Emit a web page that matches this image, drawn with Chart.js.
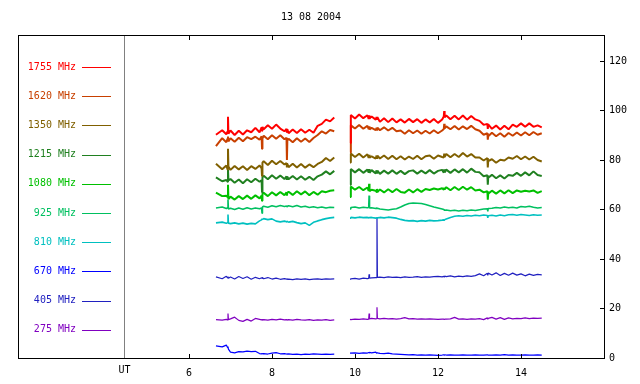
<!DOCTYPE html>
<html>
<head>
<meta charset="utf-8">
<script src="https://cdn.jsdelivr.net/npm/chart.js@4.4.1/dist/chart.umd.min.js"></script>
<style>
  html, body { margin: 0; padding: 0; background: #fff; }
</style>
</head>
<body>
<canvas id="radio" width="640" height="384"></canvas>
<script>
// ────────────────────────────────────────────────
// dane
// ────────────────────────────────────────────────
const title = "13 08 2004";
const bandLabels = ["1755 MHz","1620 MHz","1350 MHz","1215 MHz","1080 MHz","925 MHz","810 MHz","670 MHz","405 MHz","275 MHz"];
const bandColors = ["#ff0000","#c84000","#806000","#208020","#00c000","#00c060","#00c0c0","#0000ff","#2020c0","#8000c0"];
const xTicks = [6, 8, 10, 12, 14];
const yTicks = [0, 20, 40, 60, 80, 100, 120];
const utHour = 4.43;

const hours = [
  6.65,6.8,6.9, 6.93,6.94,6.95, 7.0,7.1,7.2,7.3,7.4,7.5,7.6,7.7, 7.75,7.76,7.77, 7.8,7.9,8.0,8.1,8.2,8.3, 8.35,8.36,8.37, 8.4,8.5,8.6,8.7,8.8,8.9,9.0,9.1,9.2,9.3,9.4,9.5,
  9.7,
  9.88, 9.9,10.0,10.1,10.2,10.3, 10.33,10.34,10.35, 10.4,10.5, 10.52,10.53,10.54,
  10.6,10.7,10.8,10.9,11.0,11.1,11.2,11.3,11.4,11.5,11.6,11.7,11.8,11.9,12.0,12.1,
  12.14,12.15,12.16, 12.2,12.3,12.4,12.5,12.6,12.7,12.8,12.9,13.0,13.1, 13.19,13.2,13.21,
  13.3,13.4,13.5,13.6,13.7,13.8,13.9,14.0,14.1,14.2,14.3,14.4,14.5
];

const mhz1755 = [
  90.2,92.0,90.4, 91.6,97.5,90.6, 91.9,90.1,91.8,90.3,92.0,91.2,93.0,91.2, 93.2,91.8,93.4, 92.4,94.0,92.6,94.3,92.7,91.6, 92.6,91.0,92.4, 90.8,92.3,90.9,92.4,91.0,92.2,91.0,93.8,94.6,96.3,95.6,97.2,
  null,
  86.9, 98.2,96.8,98.4,96.9,98.1, 96.6,98.0,96.7, 97.6,96.3, 97.4,96.2,97.3,
  95.4,96.9,95.3,96.8,95.2,96.4,95.1,96.6,95.3,96.5,95.0,96.4,95.2,96.6,95.0,96.4,
  97.6,99.8,97.2, 98.0,96.5,97.9,96.4,98.0,96.3,97.8,96.4,95.8,94.2, 94.6,92.6,94.4,
  92.6,93.9,92.3,93.8,92.4,94.3,93.4,94.8,93.4,94.8,93.4,94.0,93.2
];
const mhz1620 = [
  85.6,88.8,87.2, 88.6,89.5,87.5, 88.8,87.4,89.0,87.6,89.2,88.4,89.4,88.2, 89.6,84.5,88.6, 89.8,88.4,90.0,88.6,90.0,88.4, 89.0,80.0,87.8, 88.6,87.2,88.8,87.4,88.7,87.3,88.9,90.1,91.6,90.7,92.1,91.6,
  null,
  83.0, 94.0,92.7,94.1,92.6,93.8, 92.5,93.6,92.3, 93.0,92.1, 93.0,91.9,93.1,
  92.0,93.2,91.9,93.0,91.6,91.9,90.6,92.0,90.8,91.9,90.6,91.8,90.7,92.0,90.8,91.9,
  92.5,94.6,92.8, 93.6,92.4,93.7,92.3,93.6,92.5,93.8,92.4,91.8,90.2, 90.8,88.2,89.6,
  91.0,89.6,90.8,89.4,90.9,89.8,91.1,89.9,91.2,90.0,91.3,90.2,90.8
];
const mhz1350 = [
  78.5,76.3,77.8, 76.2,84.5,77.4, 76.0,77.6,76.2,77.5,76.0,77.5,76.4,77.8, 76.6,73.5,78.9, 79.5,78.0,79.7,78.3,79.6,78.2, 78.7,77.0,78.4, 77.1,78.5,77.0,78.4,76.9,78.2,77.1,78.4,79.2,80.8,79.6,81.0,
  null,
  79.0, 82.6,81.2,82.5,81.0,82.3, 80.8,82.1,80.9, 81.5,80.6, 81.8,80.5,81.8,
  80.6,81.8,80.4,81.7,80.3,81.5,80.2,81.4,80.4,81.7,80.3,81.5,81.8,80.5,81.8,81.2,
  81.0,82.6,81.2, 82.4,81.1,82.4,81.2,82.8,81.4,82.4,81.0,81.0,79.8, 80.8,77.0,79.6,
  80.3,78.9,80.1,79.8,81.0,80.5,81.6,80.3,81.4,80.2,81.3,80.0,79.4
];
const mhz1215 = [
  73.0,71.4,71.9, 71.2,76.0,71.8, 72.3,70.8,72.1,70.6,72.2,71.0,72.4,71.2, 71.8,67.0,73.0, 73.6,72.2,73.8,72.4,73.7,72.3, 73.4,72.0,73.3, 72.2,73.5,72.1,73.4,72.0,73.2,71.9,73.4,74.1,75.4,74.2,75.6,
  null,
  70.0, 76.4,75.0,76.3,74.8,76.1, 74.9,76.3,74.8, 75.9,74.6, 75.8,74.5,75.7,
  74.4,75.7,74.5,75.8,74.4,75.6,74.3,75.5,75.8,74.5,75.7,74.6,75.9,74.5,75.6,76.0,
  74.9,76.2,75.0, 76.1,74.8,76.2,75.0,76.3,74.9,76.5,75.2,75.0,73.4, 73.8,70.0,72.8,
  74.0,72.6,73.8,72.5,73.9,73.6,74.8,73.6,75.0,73.8,75.4,73.9,73.5
];
const mhz1080 = [
  66.8,65.4,65.6, 65.0,70.0,64.2, 65.2,64.0,65.4,64.2,65.6,64.3,65.7,64.5, 65.6,63.5,66.4, 66.7,65.4,67.0,65.7,67.1,65.8, 66.9,65.6,66.8, 67.2,65.9,67.4,66.1,67.3,65.8,67.1,66.0,67.4,67.0,67.6,67.8,
  null,
  65.0, 69.3,68.0,69.1,67.8,68.9, 67.5,70.4,67.4, 68.0,67.6, 67.1,68.3,67.0,
  68.1,66.9,68.2,67.0,68.3,67.1,66.8,68.1,66.9,68.2,67.1,68.3,67.9,68.5,68.1,68.6,
  68.0,68.8,68.1, 69.0,67.8,69.1,67.9,69.2,68.0,69.0,67.7,68.0,66.9, 67.4,64.0,66.4,
  67.6,66.4,67.7,66.5,67.8,66.6,67.7,67.2,67.6,67.3,67.7,66.7,67.4
];
const mhz925 = [
  60.6,61.0,60.4, 60.8,64.0,60.2, 60.5,60.0,60.6,60.1,60.7,60.2,60.6,60.3, 60.6,58.5,61.0, 61.3,60.9,61.5,61.1,61.6,61.2, 61.4,61.0,61.3, 61.5,61.1,61.6,61.0,61.3,60.8,61.1,60.7,61.0,60.6,60.9,60.8,
  null,
  60.2, 60.8,61.0,60.6,60.9,60.7, 60.8,65.6,60.6, 60.7,60.4, 60.6,60.3,60.5,
  60.2,60.0,59.8,60.1,60.3,61.0,61.8,62.4,62.6,62.5,62.4,62.0,61.5,61.0,60.6,60.2,
  60.0,59.8,59.7, 59.8,59.5,59.7,59.4,59.7,59.5,59.8,59.6,59.9,60.2, 60.3,59.2,60.4,
  60.5,60.8,60.6,61.0,60.7,60.9,60.6,61.2,61.0,61.3,60.9,60.6,60.8
];
const mhz810 = [
  54.6,54.9,54.4, 54.7,58.0,54.5, 54.3,54.6,54.2,54.5,54.1,54.4,54.2,55.4, 55.8,56.2,56.0, 56.3,55.9,56.2,55.3,55.0,55.3, 55.0,55.4,55.1, 54.9,55.2,54.7,54.3,54.6,53.6,54.8,55.4,55.9,56.3,56.6,56.8,
  null,
  56.5, 56.8,56.6,56.9,56.7,56.8, 56.6,56.9,56.7, 56.8,56.5, 56.7,56.4,56.6,
  56.8,56.6,56.9,56.7,56.5,56.0,55.6,55.4,55.5,55.2,55.5,55.3,55.6,55.4,55.5,55.7,
  55.8,55.7,55.9, 56.2,56.8,57.3,57.5,57.3,57.6,57.4,57.7,57.5,57.8, 57.6,56.6,57.5,
  57.7,57.4,57.8,57.5,57.9,58.0,57.7,58.0,57.8,57.6,57.9,57.7,57.8
];
const mhz670 = [
  4.9,4.5,5.2, 4.2,4.6,3.6, 2.4,2.1,2.6,2.5,2.8,2.6,2.7,1.8, 1.7,1.9,1.7, 1.8,1.6,2.0,2.2,1.7,1.8, 1.6,1.8,1.6, 1.7,1.5,1.6,1.4,1.6,1.5,1.7,1.6,1.5,1.6,1.5,1.6,
  null,
  2.0, 2.0,2.1,1.9,2.1,2.0, 2.2,2.1,2.3, 2.1,2.4, 2.0,2.2,2.1,
  1.9,1.8,2.0,1.7,1.6,1.5,1.4,1.3,1.4,1.2,1.3,1.2,1.3,1.2,1.1,1.2,
  1.3,1.2,1.3, 1.2,1.3,1.2,1.2,1.3,1.2,1.2,1.3,1.2,1.2, 1.3,1.2,1.2,
  1.2,1.3,1.2,1.4,1.2,1.3,1.2,1.2,1.3,1.2,1.2,1.3,1.2
];
const mhz405 = [
  32.8,32.0,33.0, 32.4,32.9,32.2, 32.7,31.9,32.9,32.1,32.8,31.8,32.6,32.0, 32.4,32.2,32.6, 32.0,32.5,31.9,32.3,31.8,32.1, 31.9,32.1,31.8, 31.9,31.7,32.0,31.8,32.0,31.7,31.9,32.0,31.8,32.0,31.9,32.0,
  null,
  31.9, 32.0,32.2,31.9,32.3,32.1, 32.2,33.8,32.3, 32.4,32.5, 32.5,56.7,32.6,
  32.7,32.5,32.8,32.6,32.7,32.5,32.8,32.6,32.7,32.9,32.6,32.8,32.7,32.9,33.0,32.8,
  33.0,32.8,33.1, 32.9,33.2,32.8,33.1,32.9,33.2,33.0,33.3,34.0,33.2, 34.2,33.4,34.3,
  33.5,34.4,33.3,34.2,33.4,34.3,33.5,34.0,33.2,33.9,33.4,33.8,33.6
];
const mhz275 = [
  15.5,15.3,15.6, 15.4,18.0,15.5, 15.8,16.5,15.2,14.8,15.6,14.9,16.0,15.6, 15.4,15.6,15.3, 15.5,15.3,15.6,15.4,15.7,15.4, 15.5,15.3,15.4, 15.5,15.3,15.6,15.4,15.3,15.5,15.2,15.4,15.3,15.5,15.2,15.4,
  null,
  15.6, 15.5,15.7,15.6,15.8,15.6, 15.7,18.0,15.8, 16.0,15.8, 15.9,20.5,16.0,
  15.8,16.0,15.8,15.9,15.7,15.9,16.3,15.8,15.9,15.7,15.8,15.7,15.8,15.7,15.6,15.7,
  15.7,15.6,15.7, 15.7,15.8,16.4,15.7,15.8,15.6,15.8,15.7,15.9,15.5, 16.2,15.6,16.0,
  16.4,15.7,16.3,15.6,16.2,15.8,16.0,15.9,16.2,15.9,16.1,16.0,16.1
];

const series = [mhz1755, mhz1620, mhz1350, mhz1215, mhz1080, mhz925, mhz810, mhz670, mhz405, mhz275];

// ────────────────────────────────────────────────
// rysowanie ramki, legendy, tytułu
// ────────────────────────────────────────────────
const FONT = '10px "DejaVu Sans Mono", monospace';

const ramka = {
  id: 'ramka',
  afterDraw(chart) {
    const { ctx, chartArea: a, scales: { x, y } } = chart;
    ctx.save();
    ctx.lineWidth = 1;

    // linia UT
    const ux = Math.round(x.getPixelForValue(utHour));
    ctx.fillStyle = '#808080';
    ctx.fillRect(ux, a.top, 1, a.bottom - a.top);

    // ramka
    ctx.strokeStyle = '#000';
    ctx.strokeRect(a.left + 0.5, a.top + 0.5, a.right - a.left, a.bottom - a.top);

    // kreski podziałki do środka
    ctx.fillStyle = '#000';
    xTicks.forEach(v => {
      const px = Math.round(x.getPixelForValue(v));
      ctx.fillRect(px, a.bottom - 4, 1, 4);
      ctx.fillRect(px, a.top, 1, 5);
    });
    yTicks.forEach(v => {
      const py = Math.round(y.getPixelForValue(v));
      ctx.fillRect(a.right - 4, py, 4, 1);
    });

    ctx.font = FONT;
    ctx.textAlign = 'center';
    ctx.textBaseline = 'middle';
    ctx.fillText('UT', ux + 0.5, a.bottom + 12);
    ctx.fillText(title, (a.left + a.right) / 2, 17);

    // legenda po lewej
    bandLabels.forEach((lab, i) => {
      const yy = a.top + 32 + i * 29.2;
      ctx.fillStyle = bandColors[i];
      ctx.textAlign = 'right';
      ctx.fillText(lab, a.left + 58, yy);
      ctx.fillRect(a.left + 64, Math.round(yy), 29, 1);
    });
    ctx.restore();
  }
};

Chart.defaults.font.family = '"DejaVu Sans Mono", monospace';
Chart.defaults.font.size = 10;
Chart.defaults.color = '#000';

new Chart(document.getElementById('radio'), {
  type: 'line',
  data: {
    datasets: series.map((vals, i) => ({
      label: bandLabels[i],
      data: hours.map((h, k) => ({ x: h, y: vals[k] })),
      borderColor: bandColors[i],
      borderWidth: i < 5 ? 2 : (i < 7 ? 1.6 : 1.2),
      borderJoinStyle: 'bevel',
      pointRadius: 0,
      tension: 0,
      spanGaps: false
    }))
  },
  options: {
    responsive: false,
    animation: false,
    layout: { padding: { left: 18, top: 35, right: 0, bottom: 0 } },
    plugins: { legend: { display: false }, tooltip: { enabled: false } },
    scales: {
      x: {
        type: 'linear',
        min: 1.88,
        max: 16,
        afterBuildTicks: s => { s.ticks = xTicks.map(v => ({ value: v })); },
        afterFit: s => { s.height = 26; },
        grid: { display: false, drawTicks: false },
        border: { display: false },
        ticks: { padding: 9, maxRotation: 0, autoSkip: false }
      },
      y: {
        position: 'right',
        min: 0,
        max: 130.5,
        afterBuildTicks: s => { s.ticks = yTicks.map(v => ({ value: v })); },
        afterFit: s => { s.width = 36; },
        grid: { display: false, drawTicks: false },
        border: { display: false },
        ticks: { padding: 5 }
      }
    }
  },
  plugins: [ramka]
});
</script>
</body>
</html>
